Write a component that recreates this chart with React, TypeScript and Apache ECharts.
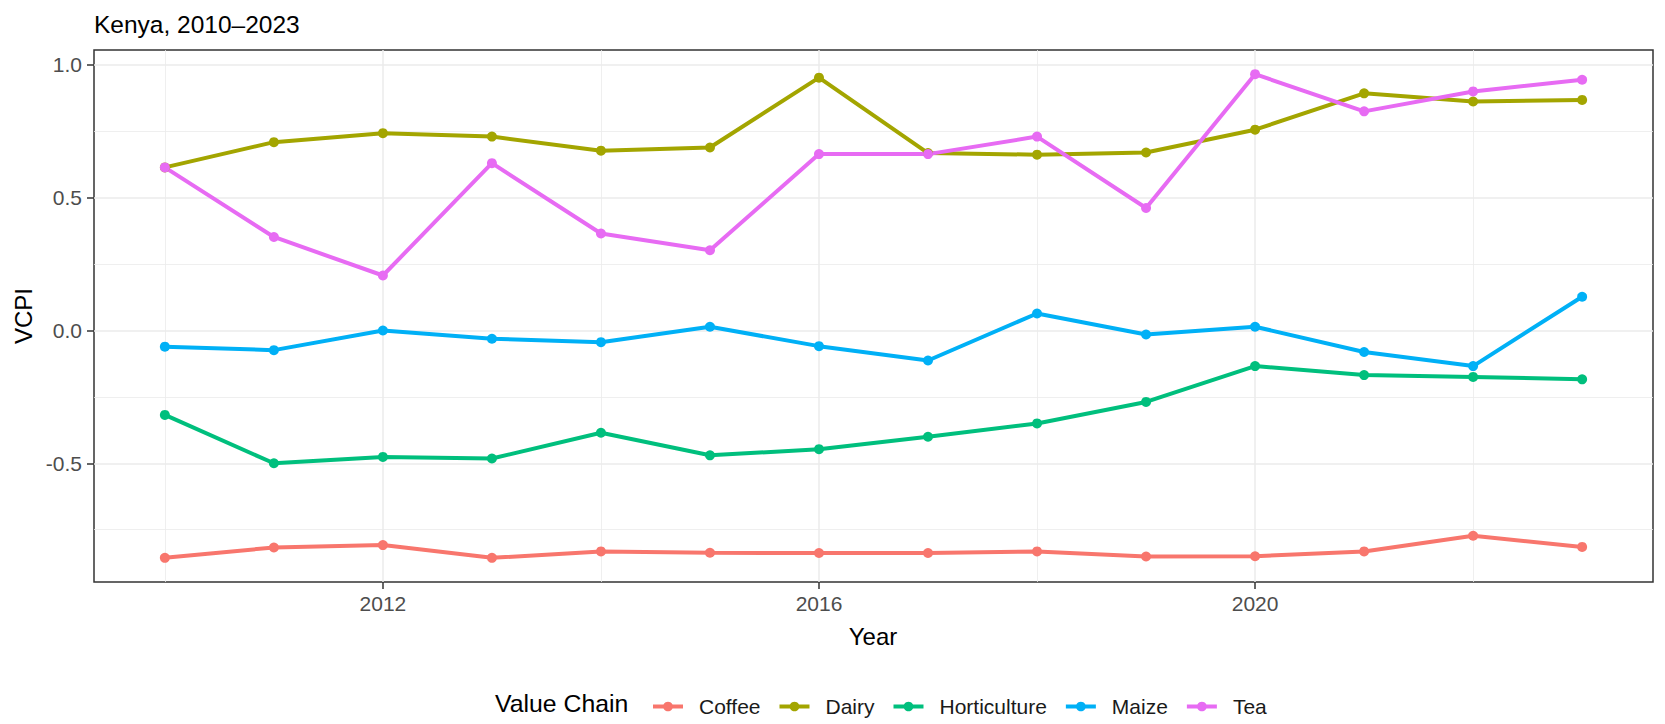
import React, { useEffect, useRef } from "react";
import * as echarts from "echarts";

const years = [2010, 2011, 2012, 2013, 2014, 2015, 2016, 2017, 2018, 2019, 2020, 2021, 2022, 2023];
const seriesNames = ["Coffee", "Dairy", "Horticulture", "Maize", "Tea"];
const coffee = [-0.856, -0.817, -0.808, -0.856, -0.832, -0.837, -0.838, -0.838, -0.832, -0.851, -0.85, -0.832, -0.773, -0.815];
const dairy = [0.614, 0.709, 0.743, 0.73, 0.677, 0.689, 0.952, 0.668, 0.662, 0.67, 0.756, 0.893, 0.862, 0.868];
const horticulture = [-0.318, -0.5, -0.476, -0.482, -0.385, -0.47, -0.447, -0.4, -0.35, -0.269, -0.134, -0.168, -0.175, -0.184];
const maize = [-0.061, -0.074, 0.0, -0.031, -0.044, 0.014, -0.059, -0.113, 0.064, -0.015, 0.014, -0.081, -0.134, 0.127];
const tea = [0.614, 0.352, 0.207, 0.63, 0.365, 0.302, 0.664, 0.664, 0.73, 0.461, 0.965, 0.825, 0.9, 0.944];
const colors = ["#F8766D", "#A3A500", "#00BF7D", "#00B0F6", "#E76BF3"];

const xMajor = [2012, 2016, 2020];
const xMinor = [2010, 2014, 2018, 2022];
const yMajor = [-0.5, 0.0, 0.5, 1.0];
const yMinor = [-0.75, -0.25, 0.25, 0.75];

const FONT = '"Liberation Sans", Arial, Helvetica, sans-serif';

export default function App() {
  const ref = useRef<HTMLDivElement>(null);
  useEffect(() => {
    if (!ref.current) return;
    const chart = echarts.init(ref.current, undefined, { renderer: "svg" });
    const all = [coffee, dairy, horticulture, maize, tea];
    const flat = all.flat();
    const yLo = Math.min(...flat);
    const yHi = Math.max(...flat);
    const yr = yHi - yLo;
    const xr = years[years.length - 1] - years[0];
    const xmin = years[0] - 0.05 * xr;
    const xmax = years[years.length - 1] + 0.05 * xr;
    const ymin = yLo - 0.05 * yr;
    const ymax = yHi + 0.05 * yr;

    const major = { color: "#EBEBEB", width: 1.5, type: "solid" };
    const minor = { color: "#EBEBEB", width: 0.8, type: "solid" };

    const gridSeries = {
      type: "line",
      name: "__grid",
      data: [],
      z: 0,
      silent: true,
      markLine: {
        z: 0,
        silent: true,
        symbol: ["none", "none"],
        label: { show: false },
        emphasis: { disabled: true },
        animation: false,
        data: [
          ...xMinor.map((v) => ({ xAxis: v, lineStyle: minor })),
          ...yMinor.map((v) => ({ yAxis: v, lineStyle: minor })),
          ...xMajor.map((v) => ({ xAxis: v, lineStyle: major })),
          ...yMajor.map((v) => ({ yAxis: v, lineStyle: major })),
        ],
      },
    };

    const lines = seriesNames.map((name, i) => ({
      type: "line",
      name,
      z: 3,
      data: years.map((y, j) => [y, all[i][j]]),
      symbol: "circle",
      symbolSize: 10,
      showSymbol: true,
      color: colors[i],
      lineStyle: { width: 4, color: colors[i] },
      itemStyle: { color: colors[i] },
      emphasis: { disabled: true },
    }));

    const option = {
      animation: false,
      textStyle: { fontFamily: FONT },
      grid: {
        left: 94,
        right: 12,
        top: 50,
        bottom: 142,
        show: true,
        borderColor: "#333333",
        borderWidth: 1.5,
        backgroundColor: "#FFFFFF",
        containLabel: false,
        outerBoundsMode: "none",
      },
      xAxis: {
        type: "value",
        position: "bottom",
        min: xmin,
        max: xmax,
        axisLine: { show: false, onZero: false },
        splitLine: { show: false },
        axisTick: { show: true, customValues: xMajor, length: 7, lineStyle: { color: "#333333", width: 1.5 } },
        axisLabel: {
          customValues: xMajor,
          color: "#4D4D4D",
          fontSize: 21,
          fontFamily: FONT,
          margin: 11,
          formatter: (v: number) => String(Math.round(v)),
        },
      },
      yAxis: {
        type: "value",
        position: "left",
        min: ymin,
        max: ymax,
        axisLine: { show: false, onZero: false },
        splitLine: { show: false },
        axisTick: { show: true, customValues: yMajor, length: 7, lineStyle: { color: "#333333", width: 1.5 } },
        axisLabel: {
          customValues: yMajor,
          color: "#4D4D4D",
          fontSize: 21,
          fontFamily: FONT,
          margin: 12,
          formatter: (v: number) => v.toFixed(1),
        },
      },
      legend: {
        data: seriesNames,
        left: 646,
        top: 691,
        orient: "horizontal",
        itemWidth: 30,
        itemHeight: 12,
        itemGap: 17,
        selectedMode: false,
        lineStyle: { width: 4 },
        textStyle: { fontSize: 21, color: "#1A1A1A", fontFamily: FONT, padding: [0, 0, 0, 11] },
      },
      graphic: [
        {
          type: "text",
          x: 94,
          y: 24,
          style: { text: "Kenya, 2010–2023", fontSize: 24.5, fontFamily: FONT, fill: "#000000", align: "left", verticalAlign: "middle" },
        },
        {
          type: "text",
          x: 23,
          y: 316,
          rotation: Math.PI / 2,
          style: { text: "VCPI", fontSize: 24, fontFamily: FONT, fill: "#000000", align: "center", verticalAlign: "middle" },
        },
        {
          type: "text",
          x: 873,
          y: 636,
          style: { text: "Year", fontSize: 24, fontFamily: FONT, fill: "#000000", align: "center", verticalAlign: "middle" },
        },
        {
          type: "text",
          x: 495,
          y: 703,
          style: { text: "Value Chain", fontSize: 24.8, fontFamily: FONT, fill: "#000000", align: "left", verticalAlign: "middle" },
        },
      ],
      series: [gridSeries, ...lines],
    };
    chart.setOption(option as any);
    return () => chart.dispose();
  }, []);
  return (
    <div
      ref={ref}
      style={{ position: "fixed", left: 0, top: 0, width: 1665, height: 724, background: "#FFFFFF" }}
    />
  );
}
